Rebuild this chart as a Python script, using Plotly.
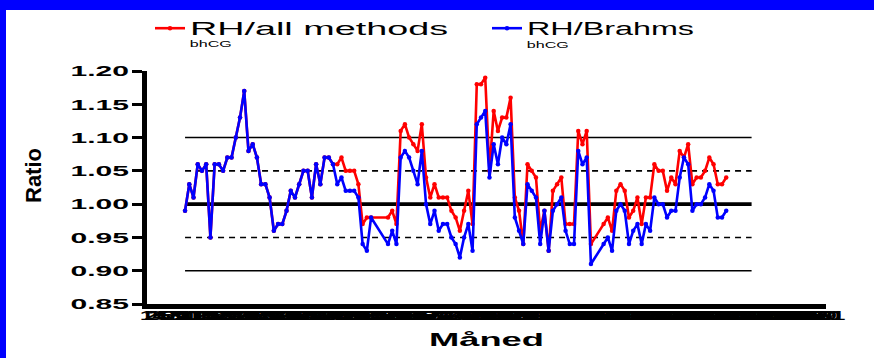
import plotly.graph_objects as go

# Month number of each observation (gaps where no measurement was made)
month = [10, 11, 12, 13, 14, 15, 16, 17, 18, 19, 20, 21, 22, 23, 24, 25, 26, 27, 28, 29,
         30, 31, 32, 33, 34, 35, 36, 37, 38, 39, 40, 41, 42, 43, 44, 45, 46, 47, 48, 49,
         50, 51, 52, 53, 54,
         58, 59, 60, 61, 62, 63, 64, 65, 66, 67, 68, 69, 70, 71, 72, 73, 74, 75, 76, 77,
         78, 79, 80, 81, 82, 83, 84, 85, 86, 87, 88, 89, 90, 91, 92, 93, 94, 95, 96, 97,
         98, 99, 100, 101, 102, 103, 104, 105, 106,
         109, 110, 111, 112, 113, 114, 115, 116, 117, 118, 119, 120, 121, 122, 123, 124,
         125, 126, 127, 128, 129, 130, 131, 132, 133, 134, 135, 136, 137, 138]

# RH(bhCG) / all methods
ratio_all = [0.99, 1.03, 1.01, 1.06, 1.05, 1.06, 0.95, 1.06, 1.06, 1.05, 1.07, 1.07, 1.10, 1.13,
             1.17, 1.08, 1.09, 1.07, 1.03, 1.03, 1.01, 0.96, 0.97, 0.97, 0.99, 1.02, 1.01, 1.03,
             1.05, 1.05, 1.01, 1.06, 1.03, 1.07, 1.07, 1.06, 1.06, 1.07, 1.05, 1.05, 1.05, 1.03,
             0.97, 0.98, 0.98,
             0.98, 0.99, 0.97, 1.11, 1.12, 1.10, 1.09, 1.08, 1.12, 1.04, 1.01, 1.03, 1.01, 1.01,
             1.01, 0.99, 0.98, 0.96, 0.99, 1.02, 0.97, 1.18, 1.18, 1.19, 1.05, 1.14, 1.11, 1.13,
             1.13, 1.16, 1.01, 0.99, 0.94, 1.06, 1.05, 1.04, 0.96, 0.99, 0.93, 1.02, 1.03, 1.04,
             0.97, 0.97, 0.97, 1.11, 1.09, 1.11, 0.94,
             0.97, 0.98, 0.96, 1.02, 1.03, 1.02, 0.98, 0.99, 1.01, 0.97, 1.01, 1.01, 1.06, 1.05,
             1.05, 1.02, 1.04, 1.03, 1.08, 1.07, 1.09, 1.03, 1.04, 1.04, 1.05, 1.07, 1.06, 1.03,
             1.03, 1.04]

# RH(bhCG) / Brahms
ratio_brahms = [0.99, 1.03, 1.01, 1.06, 1.05, 1.06, 0.95, 1.06, 1.06, 1.05, 1.07, 1.07, 1.10, 1.13,
                1.17, 1.08, 1.09, 1.07, 1.03, 1.03, 1.01, 0.96, 0.97, 0.97, 0.99, 1.02, 1.01, 1.03,
                1.05, 1.05, 1.01, 1.06, 1.03, 1.07, 1.07, 1.06, 1.03, 1.04, 1.02, 1.02, 1.02, 1.01,
                0.94, 0.93, 0.98,
                0.94, 0.96, 0.94, 1.07, 1.08, 1.07, 1.05, 1.03, 1.08, 1.00, 0.97, 0.99, 0.96, 0.97,
                0.97, 0.95, 0.94, 0.92, 0.95, 0.97, 0.93, 1.12, 1.13, 1.14, 1.04, 1.09, 1.06, 1.10,
                1.09, 1.12, 0.98, 0.96, 0.94, 1.03, 1.02, 1.01, 0.94, 0.99, 0.93, 0.99, 1.00, 1.01,
                0.96, 0.94, 0.94, 1.08, 1.06, 1.07, 0.91,
                0.94, 0.95, 0.93, 0.99, 1.00, 0.99, 0.94, 0.96, 0.97, 0.94, 0.97, 0.96, 1.01, 1.00,
                1.00, 0.98, 0.99, 0.99, 1.04, 1.07, 1.06, 0.99, 1.00, 1.00, 1.01, 1.03, 1.02, 0.98,
                0.98, 0.99]

series_names = ["RH/all methods", "RH/Brahms"]
series_colors = ["#ff0000", "#0000ff"]
subscript_text = "bhCG"

# Limit lines
ref_solid = [0.90, 1.10]
ref_dashed = [0.95, 1.05]
ref_unity = 1.00
ref_span = [10, 144]

y_tickvals = [0.85, 0.90, 0.95, 1.00, 1.05, 1.10, 1.15, 1.20]
y_ticktext = ["0.85", "0.90", "0.95", "1.00", "1.05", "1.10", "1.15", "1.20"]
x_tickvals = list(range(1, 162))
x_ticktext = [str(v) for v in x_tickvals]

FONT = "Liberation Sans, Arial, Helvetica, sans-serif"

fig = go.Figure()
for name, ys, col in zip(series_names, [ratio_all, ratio_brahms], series_colors):
    fig.add_trace(go.Scatter(
        x=month, y=ys, name=name, mode="lines+markers",
        line=dict(color=col, width=2.6),
        marker=dict(color=col, size=4.5, symbol="circle"),
    ))

shapes = []
for lv in ref_solid:
    shapes.append(dict(type="line", xref="x", yref="y", x0=ref_span[0], x1=ref_span[1],
                       y0=lv, y1=lv, line=dict(color="black", width=1.6), layer="below"))
for lv in ref_dashed:
    shapes.append(dict(type="line", xref="x", yref="y", x0=ref_span[0], x1=ref_span[1],
                       y0=lv, y1=lv, line=dict(color="black", width=1.6, dash="6px,5px"),
                       layer="below"))
shapes.append(dict(type="line", xref="x", yref="y", x0=ref_span[0], x1=ref_span[1],
                   y0=ref_unity, y1=ref_unity, line=dict(color="black", width=3.6),
                   layer="below"))

# blue frame along the top and left edges of the figure
L, T, W, H = 147, 71, 679, 233
def px_x(p):
    return (p - L) / W
def px_y(p):
    return (T + H - p) / H
shapes.append(dict(type="rect", xref="paper", yref="paper", x0=px_x(0), x1=px_x(874),
                   y0=px_y(10), y1=px_y(0), fillcolor="#0000ff", line=dict(width=0)))
shapes.append(dict(type="rect", xref="paper", yref="paper", x0=px_x(0), x1=px_x(6),
                   y0=px_y(358), y1=px_y(0), fillcolor="#0000ff", line=dict(width=0)))

annotations = [
    dict(text="Ratio", textangle=-90, xref="paper", yref="paper", x=px_x(33), y=px_y(176),
         xanchor="center", yanchor="middle", showarrow=False,
         font=dict(family=FONT, size=22, color="black", weight="bold")),
    dict(text=subscript_text, xref="paper", yref="paper", x=px_x(211), y=px_y(44),
         xanchor="center", yanchor="middle", showarrow=False,
         font=dict(family=FONT, size=9, color="black")),
    dict(text=subscript_text, xref="paper", yref="paper", x=px_x(548), y=px_y(45.5),
         xanchor="center", yanchor="middle", showarrow=False,
         font=dict(family=FONT, size=9, color="black")),
]

fig.update_layout(
    width=874, height=358,
    margin=dict(l=L, r=874 - L - W, t=T, b=358 - T - H, pad=0, autoexpand=False),
    paper_bgcolor="white", plot_bgcolor="white",
    font=dict(family=FONT, color="black"),
    showlegend=True,
    legend=dict(orientation="h", x=px_x(150), y=px_y(10), xanchor="left", yanchor="top",
                font=dict(family=FONT, size=18, color="black"),
                entrywidth=292, entrywidthmode="pixels",
                bgcolor="rgba(0,0,0,0)", borderwidth=0, itemwidth=30),
    shapes=shapes,
    annotations=annotations,
    xaxis=dict(
        range=[1, 161.6], tickmode="array", tickvals=x_tickvals, ticktext=x_ticktext,
        tickangle=0, ticks="", showgrid=False, zeroline=False, automargin=False,
        showline=True, linecolor="black", linewidth=5, ticklabelstandoff=-3,
        tickfont=dict(family=FONT, size=12, color="black", weight="bold"),
        title=dict(text="Måned", standoff=12,
                   font=dict(family=FONT, size=19, color="black", weight="bold")),
    ),
    yaxis=dict(
        range=[0.85, 1.20], tickmode="array", tickvals=y_tickvals, ticktext=y_ticktext,
        ticks="outside", ticklen=10, tickwidth=2.5, tickcolor="black",
        showgrid=False, zeroline=False, automargin=False,
        showline=True, linecolor="black", linewidth=5,
        tickfont=dict(family=FONT, size=15, color="black", weight="bold"),
    ),
)

# widen the lettering horizontally (wide-set display type)
stretch_js = """
var gd = document.getElementById('{plot_id}');
function widen(el, target) {
  var w = el.getComputedTextLength();
  if (!w) return;
  el.setAttribute('textLength', target.toFixed(1));
  el.setAttribute('lengthAdjust', 'spacingAndGlyphs');
}
var widths = {'RH/all methods': 258, 'RH/Brahms': 167, 'bhCG': 42, 'Måned': 115};
gd.querySelectorAll('text.legendtext, text.annotation-text, text.xtitle').forEach(function(t){
  var key = t.textContent;
  if (widths[key]) widen(t, widths[key]);
});
gd.querySelectorAll('g.ytick text').forEach(function(t){
  widen(t, t.getComputedTextLength() * 2.0);
});
gd.querySelectorAll('g.xtick text').forEach(function(t){
  widen(t, t.getComputedTextLength() * 2.2);
});
"""

fig.write_html("out.html", post_script=stretch_js, config={"displayModeBar": False})
